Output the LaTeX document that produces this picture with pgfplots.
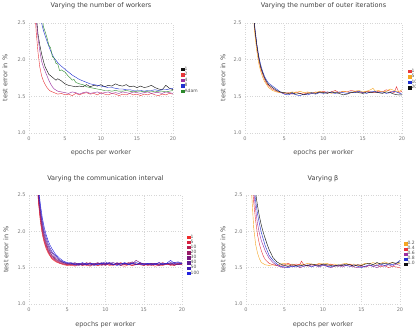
\documentclass[border=0pt]{standalone}
\usepackage{pgfplots}
\pgfplotsset{compat=1.18}
\usepackage{fontspec}
\setmainfont{DejaVu Sans}

\definecolor{titlegray}{HTML}{404040}
\definecolor{labgray}{HTML}{505050}
\definecolor{tickgray}{HTML}{7A7A7A}
\definecolor{cblack}{HTML}{101010}
\definecolor{cred}{HTML}{E8383C}
\definecolor{cpurple}{HTML}{9B30A0}
\definecolor{cblue}{HTML}{2030D0}
\definecolor{cgreen}{HTML}{2A8A2A}
\definecolor{corange}{HTML}{F5A623}
% communication interval: red to blue
\definecolor{ci1}{HTML}{F02A2A}
\definecolor{ci5}{HTML}{D8203E}
\definecolor{ci10}{HTML}{B81C50}
\definecolor{ci20}{HTML}{981A66}
\definecolor{ci30}{HTML}{7A187C}
\definecolor{ci40}{HTML}{5C1894}
\definecolor{ci50}{HTML}{3E1CB4}
\definecolor{ci100}{HTML}{2222E0}

\pgfplotsset{
  panel/.style={
    scale only axis,
    anchor=south west,
    xmin=0, xmax=20, ymin=1, ymax=2.5,
    xtick={0,5,10,15,20},
    ytick={1,1.5,2,2.5},
    /pgf/number format/assume math mode=true,
    yticklabel style={/pgf/number format/fixed,/pgf/number format/precision=1,
      /pgf/number format/fixed zerofill},
    grid=major,
    grid style={dotted, black!16, line width=0.4pt},
    axis line style={draw=none},
    tick style={draw=none},
    ticklabel style={font=\fontsize{5}{6}\selectfont, text=tickgray},
    title style={font=\fontsize{6.5}{7.5}\selectfont, text=titlegray,
      at={(0.5,1)}, anchor=center, yshift=11pt},
    xlabel style={font=\fontsize{6.5}{7.5}\selectfont, text=labgray,
      at={(0.5,0)}, anchor=center, yshift=-20pt},
    ylabel style={font=\fontsize{6.5}{7.5}\selectfont, text=labgray, anchor=center},
    xlabel={epochs per worker},
    ylabel={test error in \%},
    every axis plot/.append style={line width=0.42pt, mark=none},
    legend cell align=left,
    legend image code/.code={\fill[##1] (0pt,-1.2pt) rectangle (2.4pt,1.2pt);},
    legend style={draw=none, fill=none, inner sep=0pt, anchor=north west,
      font=\fontsize{4.5}{5}\selectfont, text=labgray,
      nodes={inner sep=0.6pt}, row sep=-0.6pt},
  },
}

\begin{document}
\begin{tikzpicture}

% ---------------- number of workers ----------------
\begin{axis}[panel, at={(29pt,200pt)}, width=144pt, height=110pt,
  title={Varying the number of workers},
  ylabel style={at={(-0.167,0.5)}},
  legend style={at={(1.056,0.607)}}]
\addplot[cblack] coordinates {(1.0,2.62)(1.25,2.35)(1.5,2.2)(1.75,2.08)(2,1.98)(2.25,1.9)(2.5,1.85)(2.75,1.8)(3,1.78)(3.5,1.74)(3.75,1.72)(4,1.74)(4.5,1.71)(5,1.67)(5.5,1.65)(6,1.64)(6.5,1.63)(7,1.64)(7.5,1.63)(8,1.66)(8.5,1.63)(9,1.65)(9.5,1.64)(10,1.66)(10.5,1.63)(11,1.65)(11.5,1.64)(12,1.67)(12.5,1.65)(13,1.64)(13.5,1.66)(14,1.63)(14.5,1.64)(15,1.62)(15.5,1.64)(16,1.62)(16.5,1.63)(17,1.65)(17.5,1.62)(18,1.6)(18.5,1.59)(19,1.65)(19.5,1.61)(20,1.59)};
\addlegendentry{1}
\addplot[cred] coordinates {(0.75,2.75)(1,2.38)(1.25,2.1)(1.5,1.9)(1.75,1.78)(2,1.71)(2.25,1.66)(2.5,1.62)(2.75,1.59)(3,1.57)(3.5,1.55)(4,1.53)(4.5,1.54)(5,1.52)(5.5,1.53)(6,1.51)(6.5,1.54)(7,1.52)(7.5,1.54)(8,1.55)(8.5,1.53)(9,1.54)(9.5,1.52)(10,1.55)(10.5,1.53)(11,1.52)(11.5,1.54)(12,1.53)(12.5,1.51)(13,1.53)(13.5,1.52)(14,1.54)(14.5,1.52)(15,1.53)(15.5,1.51)(16,1.53)(16.5,1.52)(17,1.54)(17.5,1.52)(18,1.51)(18.5,1.53)(19,1.52)(19.5,1.54)(20,1.53)};
\addlegendentry{2}
\addplot[cpurple] coordinates {(0.9,2.7)(1,2.55)(1.25,2.3)(1.5,2.12)(1.75,1.98)(2,1.9)(2.25,1.84)(2.5,1.78)(2.75,1.72)(3,1.67)(3.25,1.63)(3.5,1.6)(4,1.57)(4.5,1.56)(5,1.55)(5.5,1.54)(6,1.56)(6.5,1.55)(7,1.53)(7.5,1.55)(8,1.56)(8.5,1.54)(9,1.55)(9.5,1.56)(10,1.54)(10.5,1.55)(11,1.56)(11.5,1.54)(12,1.55)(12.5,1.54)(13,1.56)(13.5,1.55)(14,1.54)(14.5,1.56)(15,1.55)(15.5,1.54)(16,1.55)(16.5,1.56)(17,1.54)(17.5,1.55)(18,1.55)(18.5,1.54)(19,1.56)(19.5,1.55)(20,1.54)};
\addlegendentry{4}
\addplot[cblue] coordinates {(1.5,2.7)(1.75,2.5)(2,2.4)(2.5,2.25)(3,2.12)(3.5,2.02)(4,1.96)(4.5,1.91)(5,1.87)(5.5,1.83)(6,1.79)(6.5,1.76)(7,1.73)(7.5,1.71)(8,1.69)(8.5,1.67)(9,1.66)(9.5,1.65)(10,1.64)(10.5,1.63)(11,1.62)(11.5,1.62)(12,1.61)(12.5,1.6)(13,1.6)(13.5,1.59)(14,1.59)(14.5,1.58)(15,1.58)(15.5,1.58)(16,1.57)(16.5,1.58)(17,1.58)(17.5,1.59)(18,1.58)(18.5,1.59)(19,1.59)(19.5,1.6)(20,1.61)};
\addlegendentry{8}
\addplot[cgreen] coordinates {(1.8,2.6)(2,2.45)(2.25,2.38)(2.5,2.3)(2.75,2.2)(3,2.16)(3.25,2.04)(3.5,2.02)(3.75,1.95)(4,1.94)(4.25,1.85)(4.5,1.86)(5,1.83)(5.25,1.8)(5.5,1.77)(5.75,1.75)(6,1.72)(6.25,1.73)(6.5,1.69)(7,1.67)(7.5,1.66)(8,1.63)(8.5,1.62)(9,1.61)(9.5,1.6)(10,1.59)(10.5,1.58)(11,1.58)(11.5,1.57)(12,1.58)(12.5,1.57)(13,1.57)(13.5,1.58)(14,1.57)(14.5,1.56)(15,1.57)(15.5,1.57)(16,1.56)(16.5,1.57)(17,1.57)(17.5,1.56)(18,1.57)(18.5,1.57)(19,1.56)(19.5,1.57)(20,1.58)};
\addlegendentry{Adam}
\end{axis}

% ---------------- number of outer iterations ----------------
\begin{axis}[panel, at={(245pt,200pt)}, width=157pt, height=110pt,
  title={Varying the number of outer iterations},
  ylabel style={at={(-0.14,0.5)}},
  legend style={at={(1.038,0.589)}}]
\addplot[cred] coordinates {(1.1,2.6)(1.25,2.4)(1.5,2.18)(1.75,2.0)(2,1.88)(2.25,1.8)(2.5,1.73)(2.75,1.68)(3,1.64)(3.5,1.6)(4,1.57)(4.5,1.55)(5,1.54)(5.5,1.55)(6,1.53)(6.5,1.56)(7,1.54)(7.5,1.53)(8,1.55)(8.5,1.54)(9,1.56)(9.5,1.55)(10,1.57)(10.5,1.55)(11,1.56)(11.5,1.58)(12,1.55)(12.5,1.57)(13,1.56)(13.5,1.58)(14,1.57)(14.5,1.56)(15,1.55)(15.5,1.57)(16,1.56)(16.5,1.55)(17,1.57)(17.5,1.56)(18,1.59)(18.5,1.57)(19,1.55)(19.3,1.63)(19.6,1.55)(20,1.57)};
\addlegendentry{1}
\addplot[corange] coordinates {(1.1,2.55)(1.25,2.35)(1.5,2.12)(1.75,1.95)(2,1.84)(2.25,1.76)(2.5,1.7)(2.75,1.66)(3,1.62)(3.5,1.58)(4,1.56)(4.5,1.55)(5,1.55)(5.5,1.54)(6,1.56)(6.5,1.55)(7,1.57)(7.5,1.55)(8,1.56)(8.5,1.54)(9,1.55)(9.5,1.57)(10,1.55)(10.5,1.56)(11,1.54)(11.5,1.56)(12,1.55)(12.5,1.57)(13,1.56)(13.5,1.55)(14,1.57)(14.5,1.58)(15,1.56)(15.5,1.57)(16,1.59)(16.3,1.61)(16.6,1.57)(17,1.58)(17.5,1.56)(18,1.57)(18.5,1.6)(19,1.58)(19.5,1.56)(20,1.59)};
\addlegendentry{5}
\addplot[cblue] coordinates {(1.1,2.65)(1.25,2.45)(1.5,2.22)(1.75,2.05)(2,1.93)(2.25,1.84)(2.5,1.77)(2.75,1.72)(3,1.68)(3.5,1.64)(4,1.6)(4.5,1.56)(5,1.53)(5.5,1.52)(6,1.54)(6.5,1.52)(7,1.51)(7.5,1.53)(8,1.52)(8.5,1.54)(9,1.53)(9.5,1.55)(10,1.54)(10.5,1.56)(11,1.55)(11.5,1.54)(12,1.56)(12.5,1.55)(13,1.54)(13.5,1.56)(14,1.55)(14.5,1.57)(15,1.55)(15.5,1.54)(16,1.56)(16.5,1.57)(17,1.55)(17.5,1.56)(18,1.54)(18.5,1.55)(19,1.57)(19.5,1.55)(20,1.53)};
\addlegendentry{10}
\addplot[cblack] coordinates {(1.1,2.62)(1.25,2.42)(1.5,2.2)(1.75,2.03)(2,1.9)(2.25,1.82)(2.5,1.75)(2.75,1.7)(3,1.66)(3.5,1.62)(4,1.58)(4.5,1.56)(5,1.55)(5.5,1.54)(6,1.55)(6.5,1.53)(7,1.54)(7.5,1.52)(8,1.54)(8.5,1.55)(9,1.54)(9.5,1.56)(10,1.55)(10.5,1.54)(11,1.56)(11.5,1.55)(12,1.54)(12.5,1.52)(13,1.53)(13.5,1.55)(14,1.56)(14.5,1.55)(15,1.54)(15.5,1.56)(16,1.55)(16.5,1.56)(17,1.55)(17.5,1.54)(18,1.56)(18.5,1.55)(19,1.53)(19.5,1.52)(20,1.52)};
\addlegendentry{20}
\end{axis}

% ---------------- communication interval ----------------
\begin{axis}[panel, at={(29pt,29pt)}, width=153pt, height=109pt,
  title={Varying the communication interval},
  title style={yshift=-0.5pt},
  xlabel style={yshift=-1pt},
  ylabel style={at={(-0.15,0.5)}},
  legend style={at={(1.033,0.642)}, row sep=-0.9pt}]
\addplot[ci1] coordinates {(1.1,2.6)(1.25,2.38)(1.5,2.12)(1.75,1.95)(2,1.84)(2.25,1.76)(2.5,1.7)(2.75,1.66)(3,1.62)(3.5,1.58)(4,1.56)(4.5,1.54)(5,1.53)(5.5,1.54)(6,1.52)(6.5,1.55)(7,1.53)(7.5,1.54)(8,1.52)(8.5,1.55)(9,1.53)(9.5,1.54)(10,1.56)(10.5,1.53)(11,1.54)(11.5,1.55)(12,1.53)(12.5,1.52)(13,1.54)(13.5,1.53)(14,1.55)(14.5,1.54)(15,1.53)(15.5,1.55)(16,1.54)(16.5,1.52)(17,1.54)(17.5,1.53)(18,1.55)(18.5,1.54)(19,1.53)(19.5,1.55)(20,1.54)};
\addlegendentry{1}
\addplot[ci5] coordinates {(1.1,2.62)(1.25,2.4)(1.5,2.15)(1.75,1.98)(2,1.86)(2.25,1.78)(2.5,1.72)(2.75,1.67)(3,1.63)(3.5,1.59)(4,1.56)(4.5,1.55)(5,1.54)(5.5,1.53)(6,1.55)(6.5,1.54)(7,1.56)(7.5,1.53)(8,1.55)(8.5,1.54)(9,1.53)(9.5,1.56)(10,1.54)(10.5,1.55)(11,1.53)(11.5,1.55)(12,1.57)(12.5,1.54)(13,1.55)(13.5,1.53)(14,1.54)(14.5,1.56)(15,1.55)(15.5,1.53)(16,1.54)(16.5,1.55)(17,1.53)(17.5,1.54)(18,1.56)(18.5,1.53)(19,1.55)(19.5,1.54)(20,1.56)};
\addlegendentry{5}
\addplot[ci10] coordinates {(1.12,2.62)(1.25,2.43)(1.5,2.18)(1.75,2.0)(2,1.88)(2.25,1.8)(2.5,1.73)(2.75,1.68)(3,1.64)(3.5,1.6)(4,1.57)(4.5,1.55)(5,1.54)(5.5,1.55)(6,1.53)(6.5,1.56)(7,1.54)(7.5,1.55)(8,1.57)(8.5,1.54)(9,1.56)(9.5,1.55)(10,1.53)(10.5,1.56)(11,1.55)(11.5,1.54)(12,1.56)(12.5,1.55)(13,1.57)(13.5,1.55)(14,1.54)(14.5,1.56)(15,1.53)(15.5,1.55)(16,1.56)(16.5,1.54)(17,1.55)(17.5,1.57)(18,1.54)(18.5,1.55)(19,1.53)(19.5,1.56)(20,1.55)};
\addlegendentry{10}
\addplot[ci20] coordinates {(1.14,2.62)(1.25,2.46)(1.5,2.21)(1.75,2.03)(2,1.9)(2.25,1.82)(2.5,1.75)(2.75,1.7)(3,1.66)(3.5,1.61)(4,1.58)(4.5,1.56)(5,1.55)(5.5,1.54)(6,1.56)(6.5,1.55)(7,1.53)(7.5,1.57)(8,1.55)(8.5,1.54)(9,1.56)(9.5,1.53)(10,1.55)(10.5,1.57)(11,1.54)(11.5,1.56)(12,1.55)(12.5,1.54)(13,1.56)(13.5,1.58)(14,1.55)(14.5,1.54)(15,1.56)(15.5,1.55)(16,1.53)(16.5,1.56)(17,1.54)(17.5,1.55)(18,1.56)(18.5,1.54)(19,1.57)(19.5,1.55)(20,1.54)};
\addlegendentry{20}
\addplot[ci30] coordinates {(1.16,2.62)(1.25,2.5)(1.5,2.24)(1.75,2.06)(2,1.93)(2.25,1.84)(2.5,1.77)(2.75,1.72)(3,1.67)(3.5,1.62)(4,1.59)(4.5,1.57)(5,1.55)(5.5,1.56)(6,1.54)(6.5,1.53)(7,1.55)(7.5,1.54)(8,1.56)(8.5,1.55)(9,1.57)(9.5,1.54)(10,1.56)(10.5,1.55)(11,1.54)(11.5,1.57)(12,1.55)(12.5,1.56)(13,1.54)(13.5,1.55)(14,1.6)(14.5,1.57)(15,1.55)(15.5,1.54)(16,1.56)(16.5,1.55)(17,1.57)(17.5,1.54)(18,1.55)(18.5,1.56)(19,1.54)(19.5,1.55)(20,1.57)};
\addlegendentry{30}
\addplot[ci40] coordinates {(1.18,2.62)(1.25,2.53)(1.5,2.27)(1.75,2.09)(2,1.96)(2.25,1.87)(2.5,1.8)(2.75,1.74)(3,1.7)(3.5,1.64)(4,1.6)(4.5,1.57)(5,1.56)(5.5,1.55)(6,1.57)(6.5,1.54)(7,1.56)(7.5,1.55)(8,1.53)(8.5,1.56)(9,1.55)(9.5,1.57)(10,1.54)(10.5,1.56)(11,1.57)(11.5,1.55)(12,1.53)(12.5,1.56)(13,1.55)(13.5,1.57)(14,1.54)(14.5,1.56)(15,1.55)(15.5,1.54)(16,1.56)(16.5,1.55)(17,1.53)(17.5,1.56)(18,1.55)(18.5,1.57)(19,1.56)(19.5,1.54)(20,1.56)};
\addlegendentry{40}
\addplot[ci50] coordinates {(1.2,2.62)(1.5,2.31)(1.75,2.13)(2,2.0)(2.25,1.91)(2.5,1.83)(2.75,1.77)(3,1.72)(3.5,1.66)(4,1.61)(4.5,1.58)(5,1.56)(5.5,1.57)(6,1.55)(6.5,1.56)(7,1.54)(7.5,1.56)(8,1.55)(8.5,1.53)(9,1.55)(9.5,1.56)(10,1.58)(10.5,1.55)(11,1.54)(11.5,1.56)(12,1.55)(12.5,1.57)(13,1.55)(13.5,1.56)(14,1.54)(14.5,1.57)(15,1.55)(15.5,1.56)(16,1.54)(16.5,1.56)(17,1.55)(17.5,1.54)(18,1.56)(18.5,1.55)(19,1.57)(19.5,1.58)(20,1.56)};
\addlegendentry{50}
\addplot[ci100] coordinates {(1.22,2.62)(1.5,2.36)(1.75,2.18)(2,2.05)(2.25,1.95)(2.5,1.87)(2.75,1.81)(3,1.76)(3.5,1.68)(4,1.63)(4.5,1.59)(5,1.57)(5.5,1.56)(6,1.54)(6.5,1.55)(7,1.57)(7.5,1.54)(8,1.56)(8.5,1.55)(9,1.54)(9.5,1.56)(10,1.55)(10.5,1.57)(11,1.55)(11.5,1.53)(12,1.55)(12.5,1.56)(13,1.54)(13.5,1.56)(14,1.57)(14.5,1.55)(15,1.54)(15.5,1.56)(16,1.55)(16.5,1.54)(17,1.57)(17.5,1.55)(18,1.56)(18.5,1.6)(19,1.56)(19.5,1.57)(20,1.55)};
\addlegendentry{100}
\end{axis}

% ---------------- beta ----------------
\begin{axis}[panel, at={(246pt,29pt)}, width=154pt, height=109pt,
  title={Varying β},
  title style={yshift=-0.5pt},
  xlabel style={yshift=-1pt},
  ylabel style={at={(-0.149,0.5)}},
  legend style={at={(1.026,0.581)}, row sep=-1.0pt}]
\addplot[corange] coordinates {(0.7,2.6)(0.8,2.4)(1,2.05)(1.25,1.82)(1.5,1.7)(1.75,1.62)(2,1.57)(2.5,1.54)(3,1.53)(3.5,1.54)(4,1.53)(4.5,1.55)(5,1.56)(5.5,1.54)(6,1.55)(6.5,1.53)(7,1.55)(7.5,1.54)(8,1.56)(8.5,1.55)(9,1.54)(9.5,1.56)(10,1.55)(10.5,1.56)(11,1.54)(11.5,1.55)(12,1.53)(12.5,1.55)(13,1.56)(13.5,1.54)(14,1.55)(14.5,1.53)(15,1.54)(15.5,1.56)(16,1.55)(16.5,1.57)(17,1.55)(17.5,1.56)(18,1.58)(18.5,1.56)(19,1.57)(19.5,1.55)(20,1.56)};
\addlegendentry{0.2}
\addplot[cred] coordinates {(0.85,2.6)(1,2.4)(1.25,2.15)(1.5,1.95)(1.75,1.82)(2,1.73)(2.25,1.66)(2.5,1.61)(3,1.56)(3.5,1.54)(4,1.53)(4.5,1.52)(5,1.54)(5.5,1.56)(6,1.53)(6.5,1.55)(7,1.54)(7.2,1.59)(7.5,1.54)(8,1.52)(8.5,1.54)(9,1.53)(9.5,1.55)(10,1.54)(10.5,1.53)(11,1.55)(11.5,1.53)(12,1.52)(12.5,1.54)(13,1.53)(13.5,1.55)(14,1.52)(14.5,1.54)(15,1.53)(15.5,1.51)(16,1.53)(16.5,1.52)(17,1.54)(17.5,1.51)(18,1.53)(18.5,1.5)(19,1.52)(19.5,1.51)(20,1.5)};
\addlegendentry{0.4}
\addplot[cpurple] coordinates {(0.95,2.6)(1.25,2.3)(1.5,2.1)(1.75,1.97)(2,1.87)(2.5,1.73)(3,1.63)(3.5,1.57)(4,1.53)(4.5,1.51)(5,1.5)(5.5,1.52)(6,1.51)(6.5,1.53)(7,1.5)(7.5,1.52)(8,1.54)(8.5,1.52)(9,1.53)(9.5,1.51)(10,1.53)(10.5,1.52)(11,1.5)(11.5,1.52)(12,1.53)(12.5,1.51)(13,1.53)(13.5,1.52)(14,1.51)(14.5,1.5)(15,1.52)(15.5,1.51)(16,1.53)(16.5,1.52)(17,1.5)(17.5,1.53)(18,1.52)(18.5,1.54)(19,1.52)(19.5,1.55)(20,1.53)};
\addlegendentry{0.6}
\addplot[cblue] coordinates {(1.05,2.6)(1.25,2.42)(1.5,2.24)(1.75,2.1)(2,1.98)(2.5,1.8)(3,1.67)(3.5,1.6)(4,1.55)(4.5,1.52)(5,1.51)(5.5,1.5)(6,1.52)(6.5,1.51)(7,1.53)(7.5,1.52)(8,1.53)(8.5,1.51)(9,1.53)(9.5,1.52)(10,1.54)(10.5,1.52)(11,1.51)(11.5,1.53)(12,1.52)(12.5,1.54)(13,1.53)(13.5,1.52)(14,1.54)(14.5,1.52)(15,1.5)(15.5,1.52)(16,1.54)(16.5,1.52)(17,1.53)(17.5,1.55)(18,1.53)(18.5,1.55)(19,1.54)(19.5,1.56)(20,1.6)};
\addlegendentry{0.8}
\addplot[cblack] coordinates {(1.15,2.6)(1.5,2.35)(1.75,2.2)(2,2.08)(2.25,1.98)(2.5,1.9)(2.75,1.82)(3,1.75)(3.5,1.64)(4,1.58)(4.5,1.55)(5,1.53)(5.5,1.52)(6,1.54)(6.5,1.53)(7,1.52)(7.5,1.54)(8,1.53)(8.5,1.55)(9,1.54)(9.5,1.53)(10,1.55)(10.5,1.54)(11,1.53)(11.5,1.52)(12,1.54)(12.5,1.53)(13,1.55)(13.5,1.54)(14,1.52)(14.5,1.54)(15,1.53)(15.5,1.55)(16,1.56)(16.5,1.54)(17,1.57)(17.5,1.55)(18,1.56)(18.5,1.55)(19,1.57)(19.5,1.56)(20,1.58)};
\addlegendentry{1.0}
\end{axis}

% fixed page frame; legend text running past the right edge is cut there
\pgfresetboundingbox
\path (0,0) rectangle (416pt,333pt);
\end{tikzpicture}
\end{document}
